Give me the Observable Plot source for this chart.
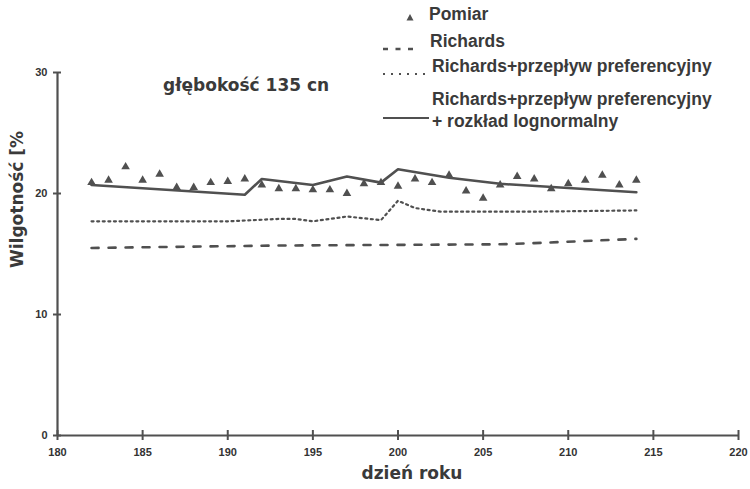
<!DOCTYPE html>
<html>
<head>
<meta charset="utf-8">
<script src="https://cdn.jsdelivr.net/npm/d3@7"></script>
<script src="https://cdn.jsdelivr.net/npm/@observablehq/plot@0.6"></script>
<style>
  body { margin: 0; background: #fff; }
  #wrap { position: relative; width: 750px; height: 489px; font-family: "Liberation Sans", Arial, sans-serif; color: #333; }
  .lg { position: absolute; font-family: "Liberation Sans", Arial, sans-serif; font-weight: bold; font-size: 17.5px; color: #3a3a3a; line-height: 20px; white-space: nowrap; }
  .sw { position: absolute; }
</style>
</head>
<body>
<div id="wrap"></div>
<script>
// Measured moisture (Pomiar) by day of year
const measDays = [182,183,184,185,186,187,188,189,190,191,192,193,194,195,196,197,198,199,200,201,202,203,204,205,206,207,208,209,210,211,212,213,214];
const measVals = [20.9,21.1,22.2,21.1,21.6,20.5,20.5,20.9,21.0,21.2,20.7,20.4,20.4,20.3,20.3,20.0,20.8,20.9,20.6,21.2,20.9,21.5,20.2,19.6,20.7,21.4,21.2,20.4,20.8,21.1,21.5,20.7,21.1];

// Richards (dashed)
const richDays = [182,193,206,208,214];
const richVals = [15.5,15.7,15.8,15.9,16.25];

// Richards + przepływ preferencyjny (dotted)
const prefDays = [182,186,190,193,194,195,197,199,200,201,202.5,208,214];
const prefVals = [17.7,17.7,17.7,17.9,17.9,17.7,18.1,17.8,19.4,18.8,18.5,18.5,18.6];

// Richards + przepływ preferencyjny + rozkład lognormalny (solid)
const logDays = [182,191,192,195,197,199,200,203,206,214];
const logVals = [20.7,19.9,21.2,20.7,21.4,20.9,22.0,21.3,20.8,20.1];

const xTicks = [180,185,190,195,200,205,210,215,220];
const yTicks = [0,10,20,30];
const depthLabel = "głębokość 135 cn";
const depthPos = {day: 186.2, val: 28.9};
const xLabel = "dzień roku";
const yLabel = "Wilgotność [%";
const legendLabels = ["Pomiar", "Richards", "Richards+przepływ preferencyjny", "Richards+przepływ preferencyjny", "+ rozkład lognormalny"];

const meas = measDays.map((d,i) => ({x:d, y:measVals[i]}));
const rich = richDays.map((d,i) => ({x:d, y:richVals[i]}));
const pref = prefDays.map((d,i) => ({x:d, y:prefVals[i]}));
const logn = logDays.map((d,i) => ({x:d, y:logVals[i]}));

const ink = "#505050";
const tickFont = "'Liberation Sans Narrow', 'Arial Narrow', 'Liberation Sans', sans-serif";
const bigFont = "'DejaVu Sans', Verdana, sans-serif";

const chart = Plot.plot({
  width: 750,
  height: 489,
  marginLeft: 57,
  marginRight: 12,
  marginTop: 72,
  marginBottom: 54,
  style: {fontFamily: "'Liberation Sans', Arial, sans-serif", color: "#333", background: "#fff"},
  x: {domain: [180, 220]},
  y: {domain: [0, 30]},
  marks: [
    Plot.ruleY([0], {stroke: ink, strokeWidth: 2.2}),
    Plot.ruleX([180], {stroke: ink, strokeWidth: 2.2}),
    // crossing tick marks on both axes
    Plot.tickX(xTicks, {x: d => d, stroke: ink, strokeWidth: 2, insetTop: 358, insetBottom: -5}),
    Plot.tickY(yTicks, {y: d => d, stroke: ink, strokeWidth: 2, insetLeft: -4, insetRight: 677}),
    Plot.axisX({ticks: xTicks, tickSize: 0, tickPadding: 13, tickFormat: d => d, fontSize: 11, fontWeight: "bold", fontFamily: tickFont, fill: "#333", label: null}),
    Plot.axisY({ticks: yTicks, tickSize: 0, tickPadding: 10, tickFormat: d => d, fontSize: 11, fontWeight: "bold", fontFamily: tickFont, fill: "#333", label: null}),
    Plot.line(rich, {x: "x", y: "y", stroke: ink, strokeWidth: 2.6, strokeDasharray: "7,10"}),
    Plot.line(pref, {x: "x", y: "y", stroke: ink, strokeWidth: 2.2, strokeDasharray: "2,3.6"}),
    Plot.line(logn, {x: "x", y: "y", stroke: ink, strokeWidth: 2.6}),
    Plot.dot(meas, {x: "x", y: "y", symbol: "triangle", r: 3.2, fill: ink, stroke: "none"}),
    Plot.text([depthLabel], {x: () => depthPos.day, y: () => depthPos.val, textAnchor: "start", fontSize: 17, fontWeight: "bold", fontFamily: bigFont, fill: "#3a3a3a"}),
    Plot.text([xLabel], {frameAnchor: "bottom", dy: 43, dx: 14, fontSize: 17, fontWeight: "bold", fontFamily: bigFont, fill: "#3a3a3a"}),
    Plot.text([yLabel], {frameAnchor: "left", rotate: -90, dx: -40, dy: 14, fontSize: 17, fontWeight: "bold", fontFamily: bigFont, fill: "#3a3a3a"})
  ]
});

const wrap = document.getElementById("wrap");
wrap.appendChild(chart);

function addText(txt, left, top) {
  const el = document.createElement("div");
  el.className = "lg";
  el.style.left = left + "px";
  el.style.top = top + "px";
  el.textContent = txt;
  wrap.appendChild(el);
}
function addSwatch(svgInner, left, top, w, h) {
  const el = document.createElement("div");
  el.className = "sw";
  el.style.left = left + "px";
  el.style.top = top + "px";
  el.innerHTML = `<svg width="${w}" height="${h}">${svgInner}</svg>`;
  wrap.appendChild(el);
}
addSwatch(`<path d="M4,1 L7.5,7.5 L0.5,7.5 Z" fill="${ink}"/>`, 406, 8, 8, 9);
addText(legendLabels[0], 429, 4);
addSwatch(`<line x1="0" y1="4" x2="30" y2="4" stroke="${ink}" stroke-width="2.6" stroke-dasharray="5,7.5"/>`, 383, 39, 32, 8);
addText(legendLabels[1], 430, 31);
addSwatch(`<line x1="0" y1="4" x2="46" y2="4" stroke="${ink}" stroke-width="2.2" stroke-dasharray="2,6"/>`, 383, 64, 48, 8);
addText(legendLabels[2], 432, 56);
addSwatch(`<line x1="0" y1="4" x2="46" y2="4" stroke="${ink}" stroke-width="2.2"/>`, 383, 108, 48, 8);
addText(legendLabels[3], 432, 89);
addText(legendLabels[4], 432, 111);
</script>
</body>
</html>
